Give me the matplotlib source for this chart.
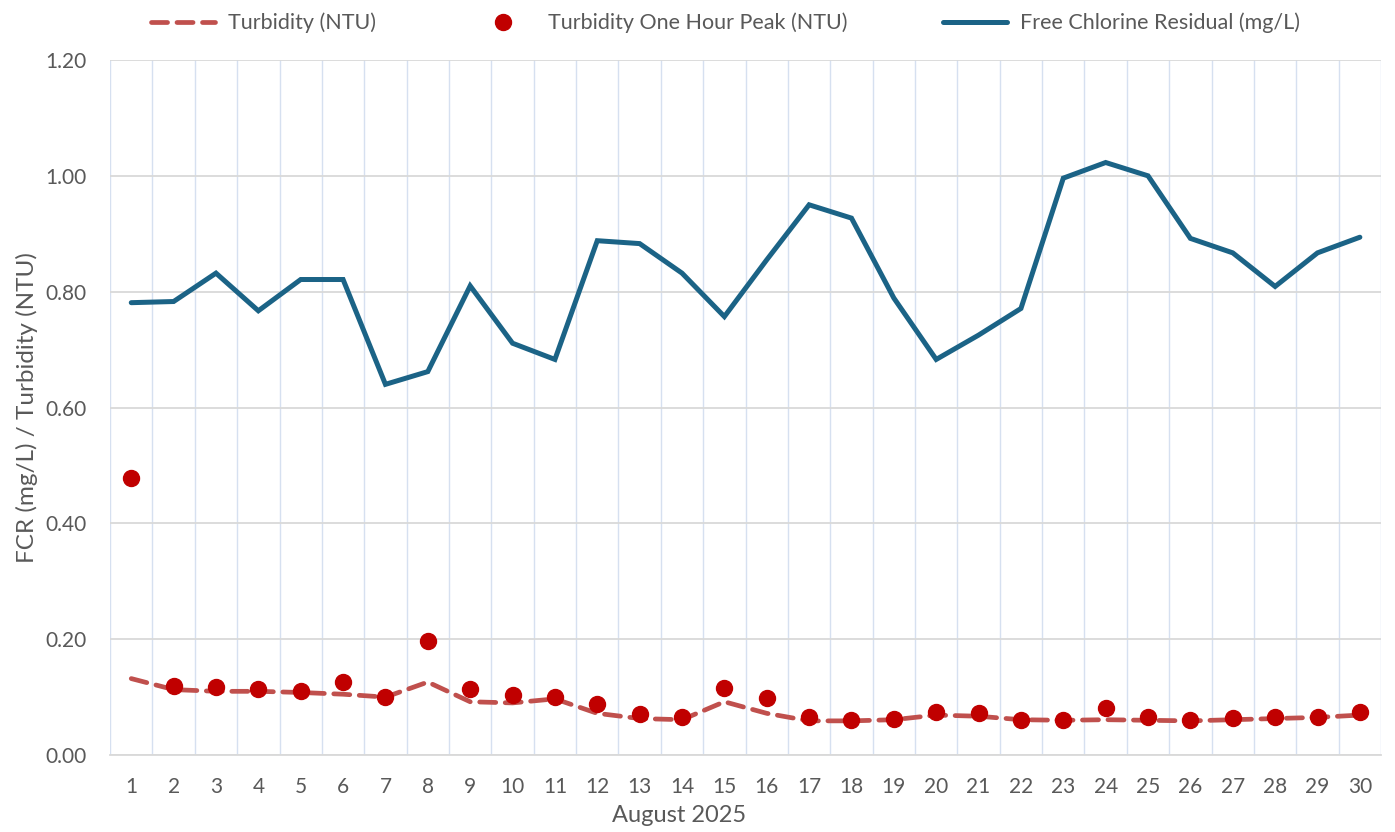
"""Daily free chlorine residual and turbidity, August 2025."""
import matplotlib
matplotlib.use("Agg")
import matplotlib.pyplot as plt
import numpy as np

days = list(range(1, 31))
fcr = [0.781, 0.783, 0.832, 0.767, 0.821, 0.821, 0.640, 0.662, 0.810, 0.711,
       0.683, 0.888, 0.883, 0.832, 0.757, 0.855, 0.950, 0.927, 0.789, 0.683,
       0.725, 0.771, 0.996, 1.023, 1.000, 0.892, 0.867, 0.809, 0.867, 0.894]
turbidity = [0.132, 0.113, 0.110, 0.110, 0.108, 0.105, 0.100, 0.126, 0.092, 0.090,
             0.097, 0.072, 0.063, 0.061, 0.092, 0.072, 0.059, 0.059, 0.061, 0.069,
             0.067, 0.061, 0.060, 0.061, 0.060, 0.059, 0.061, 0.063, 0.065, 0.069]
turb_peak = [0.478, 0.119, 0.118, 0.114, 0.111, 0.126, 0.101, 0.197, 0.114, 0.104,
             0.101, 0.088, 0.070, 0.066, 0.115, 0.099, 0.065, 0.060, 0.063, 0.075,
             0.073, 0.061, 0.061, 0.081, 0.065, 0.060, 0.064, 0.065, 0.066, 0.075]
y_ticks = [0.0, 0.2, 0.4, 0.6, 0.8, 1.0, 1.2]

TEXT = "#595959"
plt.rcParams["font.family"] = ["Lato", "DejaVu Sans"]

fig = plt.figure(figsize=(13.95, 8.32), dpi=100)
ax = fig.add_axes([0.0789, 0.0925, 0.9111, 0.8354])

x = np.array(days)
ax.plot(x, turbidity, color="#C0504D", lw=3.4, dashes=(3.4, 2.0),
        dash_capstyle="round", label="Turbidity (NTU)", zorder=3)
ax.plot(x, turb_peak, ls="none", marker="o", ms=11.5, color="#C00000",
        label="Turbidity One Hour Peak (NTU)", zorder=4)
ax.plot(x, fcr, color="#1B6386", lw=3.6, solid_capstyle="round",
        solid_joinstyle="miter", label="Free Chlorine Residual (mg/L)", zorder=3)

ax.set_xlim(0.5, 30.5)
ax.set_ylim(0, 1.2)
ax.set_yticks(y_ticks)
ax.set_yticklabels([f"{v:.2f}" for v in y_ticks])
ax.set_xticks(days)
ax.set_xticks(np.arange(0.5, 31, 1), minor=True)
ax.tick_params(axis="both", which="both", length=0, colors=TEXT, labelsize=15)
ax.tick_params(axis="x", pad=16)
ax.tick_params(axis="y", pad=17)

ax.grid(axis="y", which="major", color="#D9D9D9", lw=1.3)
ax.grid(axis="x", which="minor", color="#D6E0F0", lw=1.0)
ax.grid(axis="x", which="major", visible=False)
for s in ["top", "right", "left"]:
    ax.spines[s].set_visible(False)
ax.spines["bottom"].set_color("#D9D9D9")
ax.spines["bottom"].set_linewidth(1.3)
ax.set_axisbelow(True)

ax.set_xlabel("August 2025", color=TEXT, fontsize=17)
ax.xaxis.set_label_coords(0.4475, -0.072)
ax.set_ylabel("FCR (mg/L) / Turbidity (NTU)", color=TEXT, fontsize=17.5, labelpad=5)

leg = fig.legend(loc="upper center", bbox_to_anchor=(0.52, 1.008), ncol=3,
                 frameon=False, fontsize=15.5, handlelength=3.0,
                 columnspacing=4.4, handletextpad=0.6)
for t in leg.get_texts():
    t.set_color(TEXT)

fig.savefig("out.png", dpi=100)
